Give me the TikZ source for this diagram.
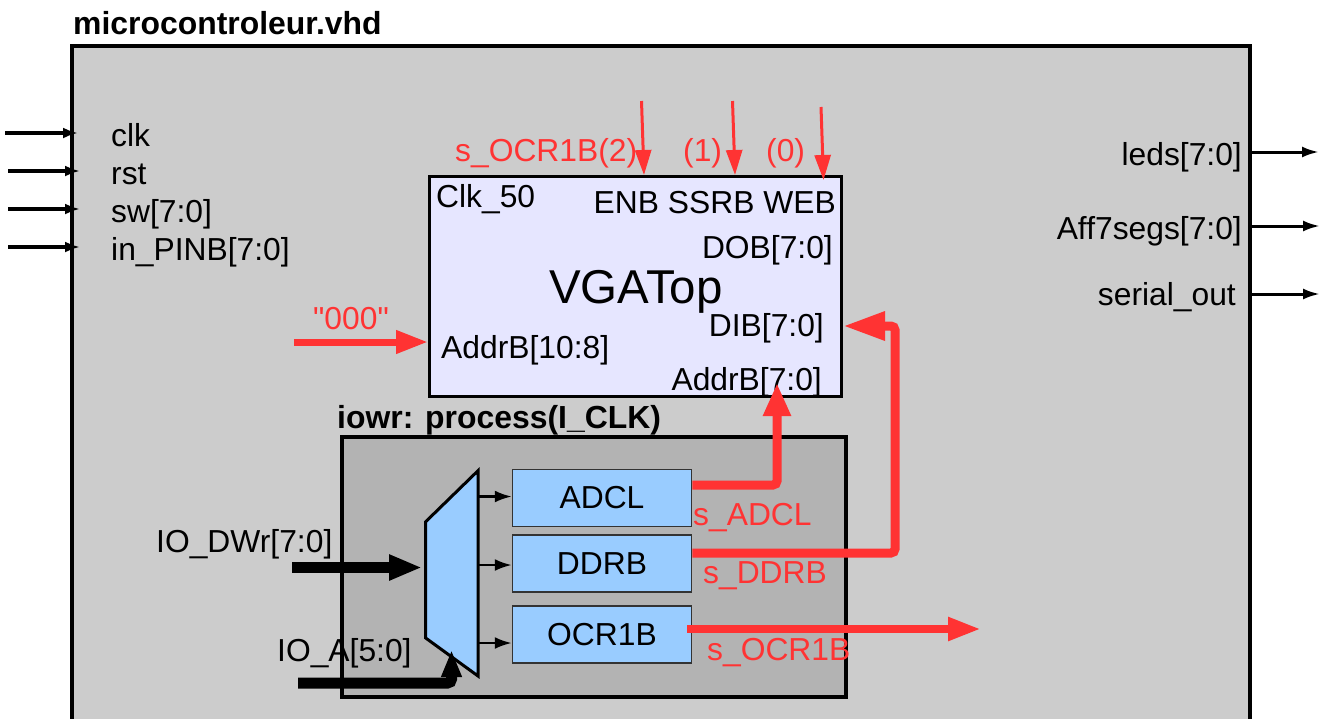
\documentclass[tikz,border=0pt]{standalone}
\usepackage{fontspec}
\setmainfont{Liberation Sans}
\usetikzlibrary{arrows.meta}
\definecolor{myred}{HTML}{FF3333}
\definecolor{maingray}{HTML}{CCCCCC}
\definecolor{procgray}{HTML}{B3B3B3}
\definecolor{vgafill}{HTML}{E6E6FF}
\definecolor{regblue}{HTML}{99CCFF}
\def\straightquote{\XeTeXglyph\XeTeXcharglyph34\relax}
\begin{document}
\begin{tikzpicture}[x=1pt,y=-1pt,
  lbl/.style={inner sep=0pt, font=\fontsize{31.8}{36}\selectfont},
  blbl/.style={inner sep=0pt, font=\fontsize{31.9}{36}\selectfont\bfseries},
  rlbl/.style={lbl, text=myred},
  portin/.style={line width=3.5, -{Latex[length=15pt,width=11pt]}},
  portout/.style={line width=3, -{Latex[length=17pt,width=11pt]}},
  muxout/.style={line width=2.5, -{Latex[length=17pt,width=12pt]}},
  redthin/.style={myred, line width=3, -{Triangle[length=25pt,width=16pt]}},
  redbus/.style={myred, line width=9, rounded corners=4, -{Triangle[length=33pt,width=26pt]}},
  reg/.style={draw=black!80, line width=1.5, fill=regblue, minimum width=179, minimum height=57, inner sep=0pt, font=\fontsize{31.8}{36}\selectfont},
]
\useasboundingbox (0,0) rectangle (1325,718);
\clip (0,0) rectangle (1325,718);
\fill[white] (0,0) rectangle (1325,718);

% main entity box
\node[draw, line width=4, fill=maingray, minimum width=1178, minimum height=694, inner sep=0pt] (mc) at (661,393) {};
\node[blbl, anchor=base west] (title) at (73,34) {microcontroleur.vhd};

% inputs
\node[lbl, anchor=base west] (lclk) at (111,146) {clk};
\node[lbl, anchor=base west] (lrst) at (111,184) {rst};
\node[lbl, anchor=base west] (lsw) at (111,222) {sw[7:0]};
\node[lbl, anchor=base west] (lpinb) at (111,260) {in\_PINB[7:0]};
\coordinate (clkA) at (5,133);  \coordinate (clkB) at (78,133);
\coordinate (rstA) at (8,171);  \coordinate (rstB) at (80,171);
\coordinate (swA) at (8,209);   \coordinate (swB) at (80,209);
\coordinate (pinA) at (8,247);  \coordinate (pinB) at (80,247);
\draw[portin] (clkA) -- (clkB);
\draw[portin] (rstA) -- (rstB);
\draw[portin] (swA) -- (swB);
\draw[portin] (pinA) -- (pinB);

% outputs
\node[lbl, anchor=base east] (lleds) at (1242,165) {leds[7:0]};
\node[lbl, anchor=base east] (laff) at (1242,239) {Aff7segs[7:0]};
\node[lbl, anchor=base east] (lser) at (1236,305) {serial\_out};
\coordinate (ledsA) at (1248,152); \coordinate (ledsB) at (1319,152);
\coordinate (affA) at (1250,226);  \coordinate (affB) at (1320,226);
\coordinate (serA) at (1250,294);  \coordinate (serB) at (1320,294);
\draw[portout] (ledsA) -- (ledsB);
\draw[portout] (affA) -- (affB);
\draw[portout] (serA) -- (serB);

% VGATop
\node[draw, line width=3, fill=vgafill, minimum width=412, minimum height=220, inner sep=0pt] (vga) at (635.5,286) {};
\node[lbl, anchor=base west] (vclk) at (436,207) {Clk\_50};
\node[lbl, anchor=base east] (vctl) at (836,213) {ENB SSRB WEB};
\node[lbl, anchor=base east] (vdob) at (833,258) {DOB[7:0]};
\node[inner sep=0pt, font=\fontsize{47.5}{54}\selectfont, anchor=base west] (vname) at (549,303) {VGATop};
\node[lbl, anchor=base east] (vdib) at (824,336) {DIB[7:0]};
\node[lbl, anchor=base west] (vaddrh) at (441,358) {AddrB[10:8]};
\node[lbl, anchor=base east] (vaddrl) at (822,390) {AddrB[7:0]};

% control inputs
\node[rlbl, anchor=base west] (locr2) at (455,161) {s\_OCR1B(2)};
\node[rlbl, anchor=base west] (lone) at (683,161) {(1)};
\node[rlbl, anchor=base west] (lzero) at (766,161) {(0)};
\coordinate (enbA) at (641.5,101); \coordinate (enbB) at (644,175);
\coordinate (ssrA) at (732.5,101); \coordinate (ssrB) at (735,175);
\coordinate (webA) at (821,107);   \coordinate (webB) at (823.5,180);
\draw[redthin] (enbA) -- (enbB);
\draw[redthin] (ssrA) -- (ssrB);
\draw[redthin] (webA) -- (webB);

% "000"
\node[rlbl, anchor=base west] (lzeros) at (313,329) {\straightquote 000\straightquote};
\coordinate (zA) at (294,342); \coordinate (zB) at (428,342);
\draw[myred, line width=7, -{Triangle[length=32pt,width=22pt]}] (zA) -- (zB);

% process box
\node[draw, line width=3.5, fill=procgray, minimum width=504, minimum height=260, inner sep=0pt] (iowr) at (594,567) {};
\node[blbl, anchor=base west] (liowr) at (337,428) {iowr: process(I\_CLK)};

% mux
\coordinate (m1) at (425.7,521.7);
\coordinate (m2) at (478,470.7);
\coordinate (m3) at (478,676);
\coordinate (m4) at (425.7,638);
\draw[line width=3, fill=regblue, line join=miter] (m1) -- (m2) -- (m3) -- (m4) -- cycle;

% registers
\node[reg] (adcl) at (602,498) {ADCL};
\node[reg] (ddrb) at (602,563.5) {DDRB};
\node[reg] (ocr) at (602,634.5) {OCR1B};

\draw[muxout] (478,496.5) -- (adcl.west |- 0,496.5);
\draw[muxout] (478,565) -- (ddrb.west |- 0,565);
\draw[muxout] (478,643) -- (ocr.west |- 0,643);

% mux inputs
\node[lbl, anchor=base west] (ldwr) at (156,552) {IO\_DWr[7:0]};
\node[lbl, anchor=base west] (lioa) at (277,661) {IO\_A[5:0]};
\coordinate (dwrA) at (292,567.5); \coordinate (dwrB) at (422,567.5);
\draw[line width=11, -{Triangle[length=33pt,width=24pt]}] (dwrA) -- (dwrB);
\coordinate (ioaA) at (298,683); \coordinate (ioaC) at (451.5,683); \coordinate (ioaB) at (451.5,650);
\draw[line width=11, rounded corners=4, -{Triangle[length=27pt,width=19pt]}] (ioaA) -- (ioaC) -- (ioaB);

% red buses
\coordinate (adclC) at (777,485);
\coordinate (adclT) at (777,383);
\draw[redbus] (adcl.east |- 0,485) -- (adclC) -- (adclT);
\coordinate (ddrbC) at (895,553);
\coordinate (ddrbU) at (895,326);
\coordinate (ddrbT) at (843,326);
\draw[myred, line width=9, rounded corners=4, -{Triangle[length=42pt,width=27pt]}] (ddrb.east |- 0,553) -- (ddrbC) -- (ddrbU) -- (ddrbT);
\coordinate (ocrT) at (981,629);
\draw[myred, line width=8, -{Triangle[length=33pt,width=22pt]}] (687,629) -- (ocrT);

\node[rlbl, anchor=base west] (ladcl) at (693,525.5) {s\_ADCL};
\node[rlbl, anchor=base west] (lddrb) at (703,583) {s\_DDRB};
\node[rlbl, anchor=base west] (locr) at (707,660) {s\_OCR1B};
\end{tikzpicture}
\end{document}
